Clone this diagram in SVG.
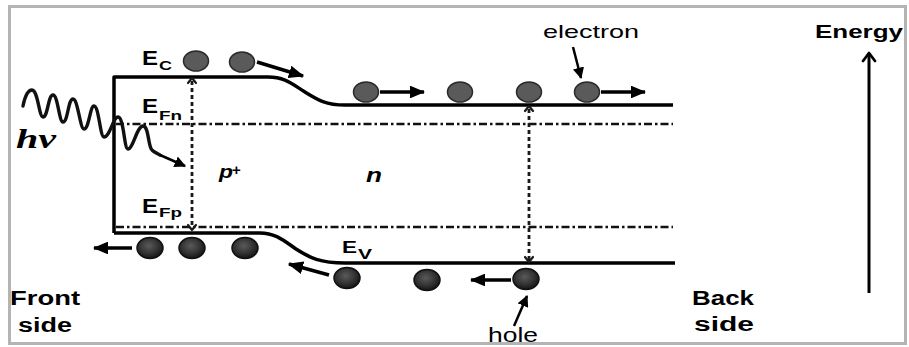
<svg xmlns="http://www.w3.org/2000/svg" width="909" height="347" viewBox="0 0 909 347">
<style>
.band{fill:none;stroke:#000;stroke-width:3.5;stroke-linejoin:round}
.fermi{fill:none;stroke:#111;stroke-width:2.5;stroke-dasharray:8,3,2.5,3}
.trans{fill:none;stroke:#1a1a1a;stroke-width:2.8;stroke-dasharray:4,3}
.chev{fill:none;stroke:#1a1a1a;stroke-width:2.2;stroke-linecap:round;stroke-linejoin:round}
.arr{fill:none;stroke:#000;stroke-width:3.5;marker-end:url(#head)}
.thin{fill:none;stroke:#000;stroke-width:2.5;marker-end:url(#headS)}
.el{fill:#5a5a5a;stroke:#2a2a2a;stroke-width:1.5}
.ho{fill:url(#hg);stroke:#111;stroke-width:1.5}
.b{font-family:"Liberation Sans",Arial,sans-serif;font-weight:bold;fill:#000}
.r{font-family:"Liberation Sans",Arial,sans-serif;fill:#000}
.bi{font-family:"Liberation Sans",Arial,sans-serif;font-weight:bold;font-style:italic;fill:#000}
</style>
<defs>
<marker id="head" viewBox="0 0 12 10" refX="11" refY="5" markerWidth="4.4" markerHeight="3.7" orient="auto" markerUnits="strokeWidth">
<path d="M0,0 L12,5 L0,10 Z" fill="#000"/>
</marker>
<marker id="headS" viewBox="0 0 10 10" refX="9" refY="5" markerWidth="4.6" markerHeight="4.6" orient="auto" markerUnits="strokeWidth">
<path d="M0,0 L10,5 L0,10 Z" fill="#000"/>
</marker>
<radialGradient id="hg" cx="0.45" cy="0.4" r="0.6">
<stop offset="0" stop-color="#5a5a5a"/>
<stop offset="0.6" stop-color="#333"/>
<stop offset="1" stop-color="#151515"/>
</radialGradient>
</defs>
<rect x="9.5" y="6.5" width="896" height="337" fill="#fff" stroke="#b4b4b4" stroke-width="3"/>

<g id="bands">
<path class="band" d="M114,233 V77 H268 C285,77 292,84 305,92 C318,100 326,105 345,105 H673"/>
<path class="band" d="M114,233 H260 C275,233 283,240 296,249 C310,258 320,263 345,263 H675"/>
<line class="fermi" x1="116" y1="124" x2="673" y2="124"/>
<line class="fermi" x1="116" y1="227" x2="673" y2="227"/>
</g>

<g id="photon">
<path fill="none" stroke="#111" stroke-width="3.4" stroke-linecap="round" stroke-linejoin="round" d="M23,106 C25,96 28,90 32,90 C38,90 39,117 43,117 C48,117 48,95 53,95 C58,95 59,122 63,122 C68,122 68,99 73,99 C78,99 80,129 84,129 C89,129 90,106 94,106 C99,106 100,137 104,137 C110,137 113,117 118,117 C124,117 124,149 128,149 C133,149 137,126 143,126 C149,126 148,147 152,150 C154,152 156,153 160,155"/>
<path class="thin" d="M160,155 L185,166"/>
<text x="16" y="148" font-family="'Liberation Serif',serif" font-weight="bold" font-style="italic" font-size="27" textLength="40" lengthAdjust="spacingAndGlyphs">hv</text>
</g>

<g id="transitions">
<line class="trans" x1="192" y1="81" x2="192" y2="229"/>
<path class="chev" d="M188,83 L192,78 L196,83 M188,225 L192,230 L196,225"/>
<line class="trans" x1="529" y1="109" x2="529" y2="260"/>
<path class="chev" d="M525,111 L529,106 L533,111 M525,257 L529,262 L533,257"/>
</g>

<g id="electrons">
<ellipse class="el" cx="196" cy="61" rx="12.5" ry="10"/>
<ellipse class="el" cx="242" cy="62" rx="12.5" ry="10"/>
<ellipse class="el" cx="366" cy="92" rx="12.5" ry="10"/>
<ellipse class="el" cx="460" cy="92" rx="12.5" ry="10"/>
<ellipse class="el" cx="529" cy="92" rx="12.5" ry="10"/>
<ellipse class="el" cx="587" cy="92" rx="12.5" ry="10"/>
</g>

<g id="holes">
<ellipse class="ho" cx="150" cy="248" rx="13" ry="10.5"/>
<ellipse class="ho" cx="192" cy="248" rx="13" ry="10.5"/>
<ellipse class="ho" cx="245" cy="248" rx="13" ry="10.5"/>
<ellipse class="ho" cx="347" cy="278" rx="13" ry="10.5"/>
<ellipse class="ho" cx="427" cy="280" rx="13" ry="10.5"/>
<ellipse class="ho" cx="526" cy="279" rx="13" ry="10.5"/>
</g>

<g id="connectors">
<path class="arr" d="M257,62 L303,76"/>
<path class="arr" d="M380,92 L424,92"/>
<path class="arr" d="M601,92 L645,92"/>
<path class="thin" d="M573,47 L581,78"/>
<path class="arr" d="M132,248 L94,248"/>
<path class="arr" d="M329,275 L289,264"/>
<path class="arr" d="M511,280 L471,280"/>
<path class="thin" d="M514,326 L527,296"/>
<path fill="none" stroke="#000" stroke-width="3" d="M869,293 V53"/>
<path fill="none" stroke="#000" stroke-width="2.8" stroke-linecap="round" stroke-linejoin="round" d="M863,61 L869,53 L875,61"/>
</g>

<g id="labels">
<text class="b" x="142" y="65" font-size="20" textLength="16" lengthAdjust="spacingAndGlyphs">E</text>
<text class="b" x="159" y="70" font-size="13" textLength="13" lengthAdjust="spacingAndGlyphs">C</text>
<text class="b" x="142" y="113" font-size="20" textLength="16" lengthAdjust="spacingAndGlyphs">E</text>
<text class="b" x="159" y="120" font-size="13" textLength="23" lengthAdjust="spacingAndGlyphs">Fn</text>
<text class="b" x="142" y="213" font-size="20" textLength="16" lengthAdjust="spacingAndGlyphs">E</text>
<text class="b" x="159" y="217" font-size="13" textLength="23" lengthAdjust="spacingAndGlyphs">Fp</text>
<text class="b" x="342" y="253" font-size="17" textLength="15" lengthAdjust="spacingAndGlyphs" style="font-weight:600">E</text>
<text class="b" x="358" y="259" font-size="14" textLength="14" lengthAdjust="spacingAndGlyphs" style="font-weight:600">V</text>
<text class="bi" x="219" y="178" font-size="19" textLength="14" lengthAdjust="spacingAndGlyphs">p</text>
<text class="b" x="232" y="175" font-size="15">+</text>
<text class="bi" x="366" y="182" font-size="20" textLength="16" lengthAdjust="spacingAndGlyphs">n</text>
<text class="r" x="543" y="38" font-size="19" textLength="96" lengthAdjust="spacingAndGlyphs">electron</text>
<text class="r" x="488" y="342" font-size="20" textLength="50" lengthAdjust="spacingAndGlyphs">hole</text>
<text class="b" x="10" y="305" font-size="20" textLength="70" lengthAdjust="spacingAndGlyphs">Front</text>
<text class="b" x="18" y="332" font-size="20" textLength="54" lengthAdjust="spacingAndGlyphs">side</text>
<text class="b" x="692" y="305" font-size="20" textLength="62" lengthAdjust="spacingAndGlyphs">Back</text>
<text class="b" x="694" y="331" font-size="20" textLength="60" lengthAdjust="spacingAndGlyphs">side</text>
<text class="b" x="815" y="38" font-size="19" textLength="88" lengthAdjust="spacingAndGlyphs">Energy</text>
</g>
</svg>
